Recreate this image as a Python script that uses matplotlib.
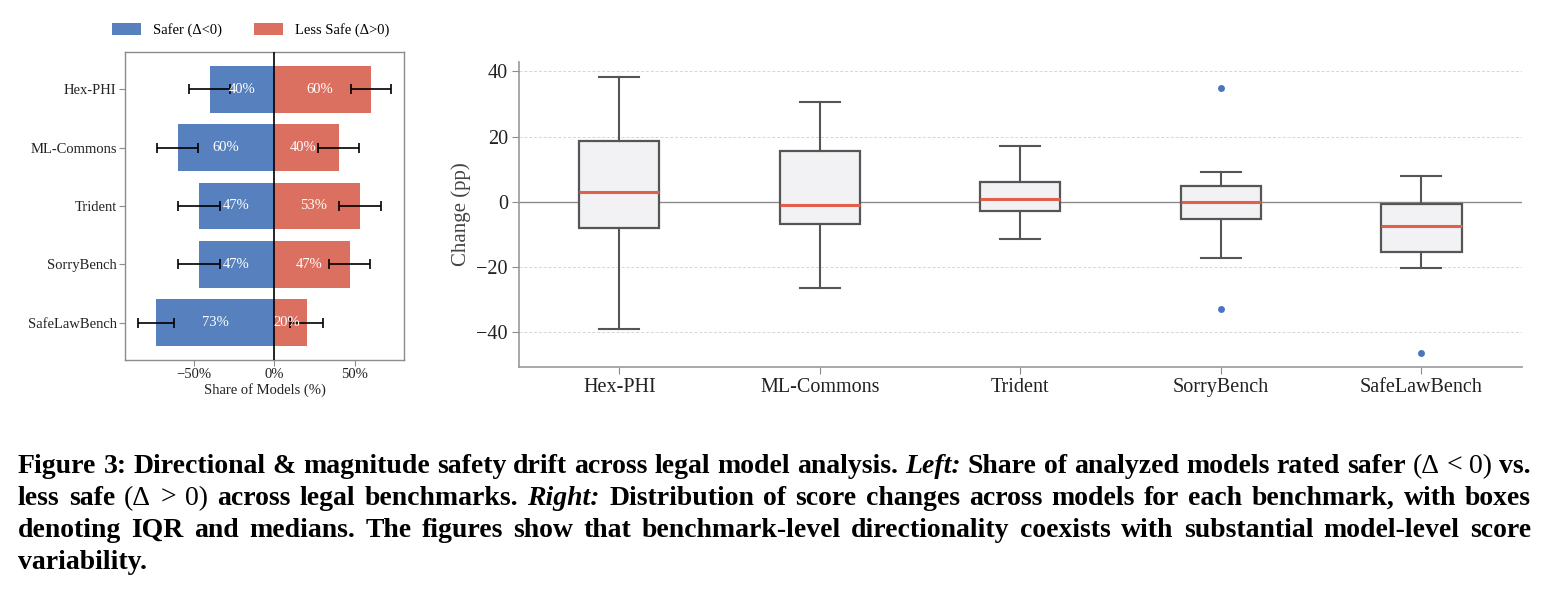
import matplotlib
matplotlib.use("Agg")
import matplotlib.pyplot as plt
import numpy as np

plt.rcParams["font.family"] = ["Liberation Serif", "DejaVu Serif"]
plt.rcParams["axes.unicode_minus"] = True

# ---- data ----
benchmarks = ["Hex-PHI", "ML-Commons", "Trident", "SorryBench", "SafeLawBench"]

# left panel: share of models (%)
safer = [40.0, 60.0, 46.7, 46.7, 73.3]
less_safe = [60.0, 40.0, 53.3, 46.7, 20.0]
safer_err = [12.6, 12.6, 12.9, 12.9, 11.4]
less_err = [12.6, 12.6, 12.9, 12.9, 10.3]

# right panel: score change (pp) box statistics
q1 = [-8.0, -6.9, -2.9, -5.2, -15.4]
median = [3.0, -1.0, 0.7, -0.1, -7.6]
q3 = [18.6, 15.6, 5.9, 4.8, -0.6]
whisk_lo = [-39.0, -26.4, -11.6, -17.2, -20.4]
whisk_hi = [38.3, 30.6, 17.1, 9.1, 8.0]
outliers = [[], [], [], [34.8, -32.9], [-46.4]]

BLUE = "#5681be"
RED = "#dc7060"
TXT = "#222222"
SPINE = "#8c8c8c"

W, H = 1551, 594
fig = plt.figure(figsize=(W / 100, H / 100), dpi=100)

# ---- left: diverging bars ----
ax1 = fig.add_axes([125 / W, 1 - 360 / H, 279 / W, 308 / H])
y = np.arange(len(benchmarks))
neg = [-v for v in safer]
ax1.barh(y, neg, height=0.8, color=BLUE, label="Safer (Δ<0)", zorder=2)
ax1.barh(y, less_safe, height=0.8, color=RED, label="Less Safe (Δ>0)", zorder=2)
ax1.errorbar(neg, y, xerr=safer_err, fmt="none", ecolor="black",
             elinewidth=1.2, capsize=3.5, capthick=1.2, zorder=4)
ax1.errorbar(less_safe, y, xerr=less_err, fmt="none", ecolor="black",
             elinewidth=1.2, capsize=3.5, capthick=1.2, zorder=4)
ax1.axvline(0, color="black", lw=1.2, zorder=3)
for i in range(len(benchmarks)):
    ax1.text(neg[i] / 2, y[i], f"{safer[i]:.0f}%", ha="center", va="center",
             color="white", fontsize=10.5, zorder=5)
    ax1.text(less_safe[i] / 2 - 2, y[i], f"{less_safe[i]:.0f}%", ha="center",
             va="center", color="white", fontsize=10.5, zorder=5)
ax1.set_yticks(y)
ax1.set_yticklabels(benchmarks, fontsize=10.5, color=TXT)
ax1.invert_yaxis()
ax1.set_xticks([-50, 0, 50])
ax1.set_xticklabels(["\u221250%", "0%", "50%"], fontsize=10.5, color=TXT)
ax1.set_xlabel("Share of Models (%)", fontsize=10.5, color=TXT, labelpad=1)
for s in ax1.spines.values():
    s.set_color(SPINE)
    s.set_linewidth(1.0)
ax1.tick_params(colors=SPINE, length=4, pad=2)
for lab in ax1.get_xticklabels() + ax1.get_yticklabels():
    lab.set_color(TXT)
ax1.legend(loc="lower center", bbox_to_anchor=(0.45, 1.0), ncol=2,
           frameon=False, fontsize=10.5, handlelength=2.0, handleheight=0.9,
           columnspacing=2.2, borderaxespad=0.6)

# ---- right: box plots ----
ax2 = fig.add_axes([519 / W, 1 - 366.7 / H, 1002.7 / W, 304.4 / H])
stats = []
for i, name in enumerate(benchmarks):
    stats.append(dict(label=name, q1=q1[i], med=median[i], q3=q3[i],
                      whislo=whisk_lo[i], whishi=whisk_hi[i],
                      fliers=outliers[i]))
ax2.axhline(0, color="#8a8a8a", lw=1.0, zorder=1)
ax2.bxp(stats, positions=range(1, 6), widths=0.4, capwidths=0.2,
        patch_artist=True, manage_ticks=False,
        boxprops=dict(facecolor="#f2f2f4", edgecolor="#555555", linewidth=1.6),
        whiskerprops=dict(color="#555555", linewidth=1.5),
        capprops=dict(color="#555555", linewidth=1.5),
        medianprops=dict(color="#e0604c", linewidth=2.2),
        flierprops=dict(marker="o", markerfacecolor="#4f74bf",
                        markeredgecolor="none", markersize=5))
ax2.set_xlim(0.5, 5.5)
ax2.set_ylim(-50.7, 42.8)
ax2.set_xticks(range(1, 6))
ax2.set_xticklabels(benchmarks, fontsize=14.5, color=TXT)
ax2.set_yticks([-40, -20, 0, 20, 40])
ax2.tick_params(axis="both", colors=SPINE, labelsize=14.5, length=5, pad=3)
for lab in ax2.get_xticklabels() + ax2.get_yticklabels():
    lab.set_color(TXT)
ax2.set_ylabel("Change (pp)", fontsize=15, color="#444444", labelpad=4)
ax2.yaxis.grid(True, linestyle=(0, (3, 2)), color="#d6d6d6", lw=0.7)
ax2.set_axisbelow(True)
for side in ["top", "right"]:
    ax2.spines[side].set_visible(False)
for side in ["left", "bottom"]:
    ax2.spines[side].set_color("#999999")
    ax2.spines[side].set_linewidth(1.2)

# ---- caption (justified) ----
caption = [
    "Figure 3: Directional & magnitude safety drift across legal model analysis. "
    "*Left:* Share of analyzed models rated safer (Δ < 0) vs.",
    "less safe (Δ > 0) across legal benchmarks. *Right:* Distribution of score "
    "changes across models for each benchmark, with boxes",
    "denoting IQR and medians. The figures show that benchmark-level "
    "directionality coexists with substantial model-level score",
    "variability.",
]
math_tokens = {"(Δ", "<", ">", "0)"}
renderer = fig.canvas.get_renderer()
x_left, x_right = 18, 1531
baselines = [473, 505, 537, 569]
cap_size = 20


def make_word(word):
    italic = word.startswith("*") and word.endswith("*")
    w = word.strip("*")
    weight = "normal" if w in math_tokens else "bold"
    t = fig.text(0, 0, w, fontsize=cap_size, fontweight=weight,
                 fontstyle="italic" if italic else "normal", color="black",
                 va="baseline", ha="left")
    return t, t.get_window_extent(renderer).width


sp_a = fig.text(0, 0, "a a", fontsize=cap_size, fontweight="bold")
sp_b = fig.text(0, 0, "aa", fontsize=cap_size, fontweight="bold")
space_w = (sp_a.get_window_extent(renderer).width
           - sp_b.get_window_extent(renderer).width)
sp_a.remove()
sp_b.remove()

for k, line in enumerate(caption):
    words = [make_word(w) for w in line.split(" ")]
    total = sum(w for _, w in words)
    if k < len(caption) - 1 and len(words) > 1:
        gap = (x_right - x_left - total) / (len(words) - 1)
    else:
        gap = space_w
    x = x_left
    for t, w in words:
        t.set_position((x / W, 1 - baselines[k] / H))
        x += w + gap

fig.savefig("out.png", dpi=100)
